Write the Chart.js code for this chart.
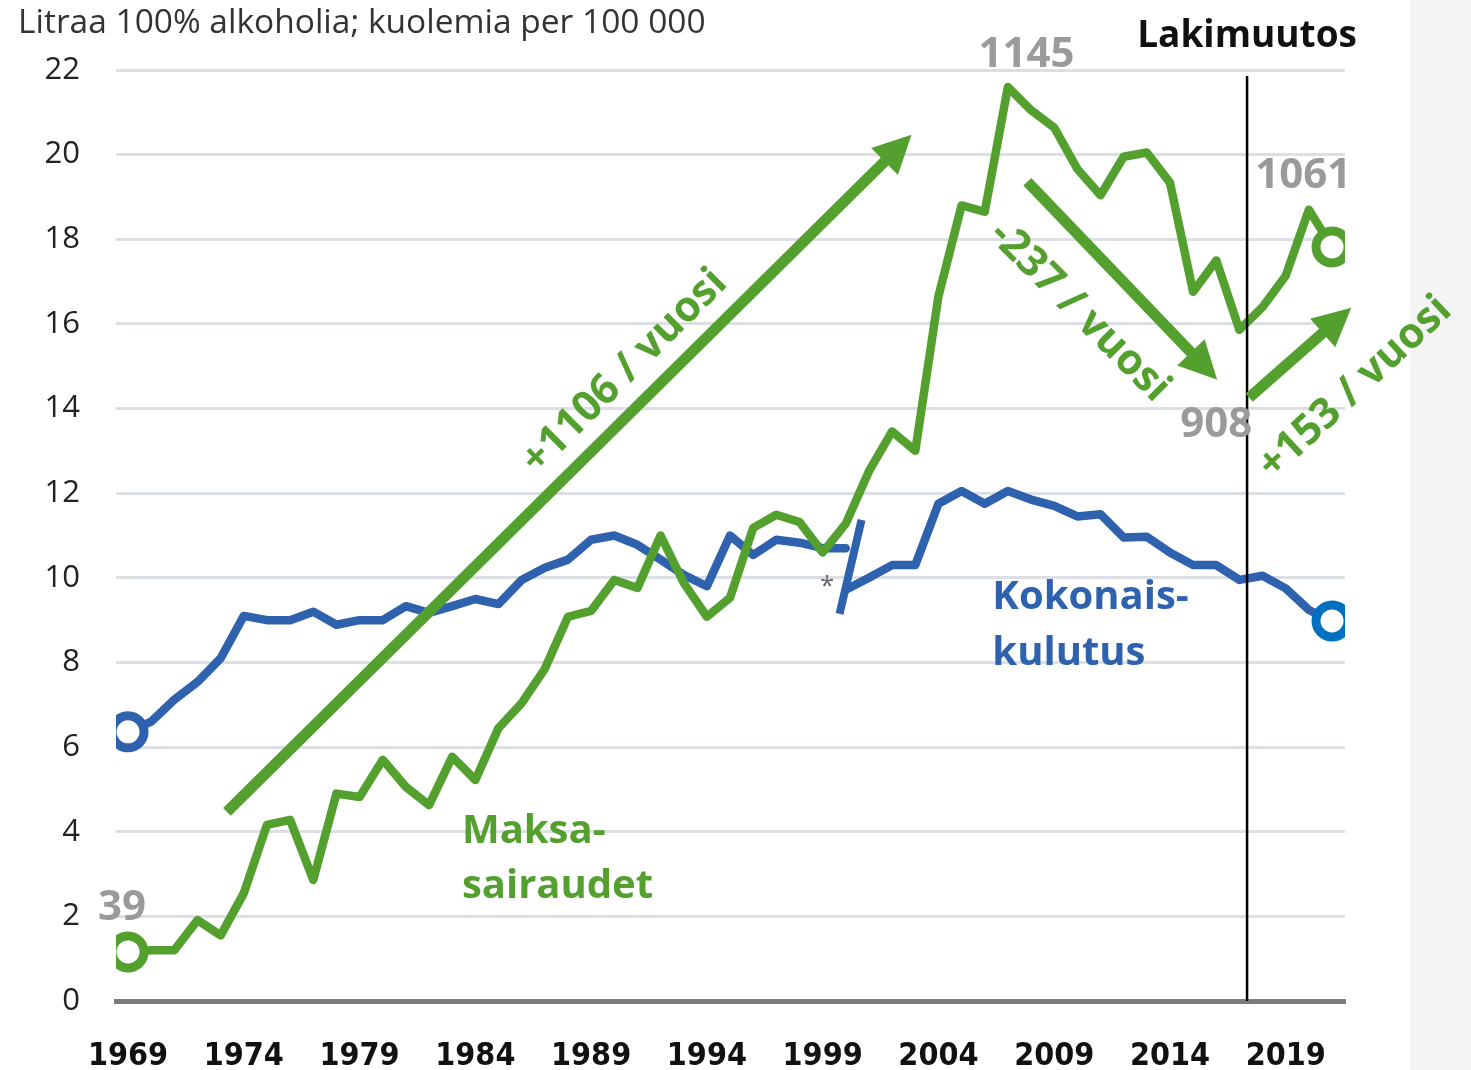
<!DOCTYPE html>
<html lang="fi">
<head>
    <meta charset="UTF-8">
    <title>Alkoholin kokonaiskulutus ja maksasairauskuolemat</title>
    <script src="https://cdnjs.cloudflare.com/ajax/libs/Chart.js/4.4.1/chart.umd.min.js"></script>
    <style>
        body {
            margin: 0;
            background-color: #f4f4f4;
        }
    </style>
</head>
<body>
    <canvas id="alcoholChart" width="1471" height="1070"></canvas>

    <script>
        // Years 1969-2021
        const years = [
            1969, 1970, 1971, 1972, 1973, 1974, 1975, 1976, 1977, 1978,
            1979, 1980, 1981, 1982, 1983, 1984, 1985, 1986, 1987, 1988,
            1989, 1990, 1991, 1992, 1993, 1994, 1995, 1996, 1997, 1998,
            1999, 2000, 2001, 2002, 2003, 2004, 2005, 2006, 2007, 2008,
            2009, 2010, 2011, 2012, 2013, 2014, 2015, 2016, 2017, 2018,
            2019, 2020, 2021
        ];

        // Maksasairaudet (kuolemia per 100 000)
        const liverDeaths = [
            1.16, 1.2, 1.2, 1.91, 1.55, 2.55, 4.16, 4.28, 2.86, 4.9,
            4.82, 5.7, 5.06, 4.63, 5.77, 5.22, 6.45, 7.04, 7.85, 9.08,
            9.22, 9.95, 9.76, 11.0, 9.88, 9.08, 9.53, 11.18, 11.49, 11.32,
            10.6, 11.28, 12.52, 13.46, 13.0, 16.65, 18.8, 18.65, 21.6, 21.05,
            20.64, 19.66, 19.04, 19.95, 20.05, 19.34, 16.76, 17.5, 15.86, 16.4,
            17.14, 18.7, 17.82
        ];

        // Kokonaiskulutus, vanha tilasto 1969-2000
        const oldYears = years.slice(0, 32);
        const consumptionOld = [
            6.36, 6.6, 7.12, 7.54, 8.1, 9.1, 9.0, 9.0, 9.2, 8.89,
            9.0, 9.0, 9.33, 9.17, 9.33, 9.5, 9.38, 9.95, 10.24, 10.43,
            10.9, 11.0, 10.78, 10.43, 10.07, 9.8, 11.0, 10.54, 10.9, 10.83,
            10.7, 10.7
        ];

        // Kokonaiskulutus, uusi tilasto 2000-2021
        const newYears = years.slice(31);
        const consumptionNew = [
            9.72, 10.0, 10.3, 10.3, 11.75, 12.05, 11.75, 12.05, 11.85, 11.7,
            11.45, 11.5, 10.95, 10.97, 10.6, 10.3, 10.3, 9.95, 10.05, 9.75,
            9.24, 8.98
        ];

        const xTickYears = [1969, 1974, 1979, 1984, 1989, 1994, 1999, 2004, 2009, 2014, 2019];
        const lawChangeYear = 2017.33;

        const GREEN = '#53a02f';
        const BLUE = '#2f62ae';
        const BLUE_END = '#0070c0';
        const GREY = '#9a9a9a';

        // trend arrows, [x0, y0, x1, y1] in year/value units
        const arrows = [
            [1973.27, 4.47, 2002.84, 20.47],
            [2007.84, 19.36, 2016.04, 14.68],
            [2017.42, 14.26, 2021.83, 16.38]
        ];

        // text annotations
        const notes = [
            { text: '1145', x: 2007.8, y: 22.36, color: GREY, size: 42, align: 'center' },
            { text: '1061', x: 2019.76, y: 19.5, color: GREY, size: 42, align: 'center' },
            { text: '908', x: 2016.0, y: 13.62, color: GREY, size: 42, align: 'center' },
            { text: '39', x: 1968.74, y: 2.2, color: GREY, size: 42, align: 'center' },
            { text: 'Lakimuutos', x: lawChangeYear, y: 22.8, color: '#111', size: 37, align: 'center' },
            { text: 'Maksa-', x: 1983.42, y: 4.0, color: GREEN, size: 40, align: 'left' },
            { text: 'sairaudet', x: 1983.42, y: 2.7, color: GREEN, size: 40, align: 'left' },
            { text: 'Kokonais-', x: 2006.33, y: 9.53, color: BLUE, size: 40, align: 'left' },
            { text: 'kulutus', x: 2006.33, y: 8.2, color: BLUE, size: 40, align: 'left' }
        ];

        const slopeNotes = [
            { text: '+1106 / vuosi', x: 1990.45, y: 14.87, angle: -45 },
            { text: '-237 / vuosi', x: 2010.09, y: 16.29, angle: 45 },
            { text: '+153 / vuosi', x: 2022.0, y: 14.49, angle: -43 }
        ];

        function toPoints(xs, ys) {
            return xs.map((x, i) => ({ x: x, y: ys[i] }));
        }

        function endRadius(len, first, last) {
            return Array.from({ length: len }, (_, i) => (i === 0 && first) || (i === len - 1 && last) ? 16 : 0);
        }

        const annotationPlugin = {
            id: 'annotations',
            beforeDraw(chart) {
                // white plot panel, grey strip on the right
                const ctx = chart.ctx;
                ctx.save();
                ctx.fillStyle = '#fff';
                ctx.fillRect(0, 0, 1410, chart.height);
                ctx.fillStyle = '#f4f4f4';
                ctx.fillRect(1410, 0, chart.width - 1410, chart.height);
                ctx.restore();
            },
            afterDatasetsDraw(chart) {
                const ctx = chart.ctx;
                const xs = chart.scales.x;
                const ys = chart.scales.y;
                const area = chart.chartArea;
                ctx.save();

                // law change line
                const lx = xs.getPixelForValue(lawChangeYear);
                ctx.strokeStyle = '#000';
                ctx.lineWidth = 2.5;
                ctx.beginPath();
                ctx.moveTo(lx, area.top + 6);
                ctx.lineTo(lx, area.bottom);
                ctx.stroke();

                // break in consumption series
                ctx.strokeStyle = BLUE;
                ctx.lineWidth = 8;
                ctx.beginPath();
                ctx.moveTo(xs.getPixelForValue(2000.68), ys.getPixelForValue(11.37));
                ctx.lineTo(xs.getPixelForValue(1999.73), ys.getPixelForValue(9.15));
                ctx.stroke();

                ctx.fillStyle = '#666';
                ctx.font = '26px "Open Sans"';
                ctx.textAlign = 'center';
                ctx.textBaseline = 'middle';
                ctx.fillText('*', xs.getPixelForValue(1999.2), ys.getPixelForValue(9.8));

                // arrows
                ctx.fillStyle = GREEN;
                ctx.strokeStyle = GREEN;
                arrows.forEach(a => {
                    const x0 = xs.getPixelForValue(a[0]), y0 = ys.getPixelForValue(a[1]);
                    const x1 = xs.getPixelForValue(a[2]), y1 = ys.getPixelForValue(a[3]);
                    const ang = Math.atan2(y1 - y0, x1 - x0);
                    const head = 38, half = 19;
                    const bx = x1 - head * Math.cos(ang), by = y1 - head * Math.sin(ang);
                    ctx.lineWidth = 11;
                    ctx.lineCap = 'butt';
                    ctx.beginPath();
                    ctx.moveTo(x0, y0);
                    ctx.lineTo(bx + 2 * Math.cos(ang), by + 2 * Math.sin(ang));
                    ctx.stroke();
                    ctx.beginPath();
                    ctx.moveTo(x1, y1);
                    ctx.lineTo(bx + half * Math.sin(ang), by - half * Math.cos(ang));
                    ctx.lineTo(bx - half * Math.sin(ang), by + half * Math.cos(ang));
                    ctx.closePath();
                    ctx.fill();
                });

                // slope texts
                ctx.font = 'bold 42px "Open Sans"';
                ctx.textAlign = 'center';
                ctx.textBaseline = 'middle';
                slopeNotes.forEach(n => {
                    ctx.save();
                    ctx.translate(xs.getPixelForValue(n.x), ys.getPixelForValue(n.y));
                    ctx.rotate(n.angle * Math.PI / 180);
                    ctx.fillText(n.text, 0, 0);
                    ctx.restore();
                });

                // labels
                notes.forEach(n => {
                    ctx.fillStyle = n.color;
                    ctx.font = 'bold ' + n.size + 'px "Open Sans"';
                    ctx.textAlign = n.align;
                    ctx.textBaseline = 'middle';
                    ctx.fillText(n.text, xs.getPixelForValue(n.x), ys.getPixelForValue(n.y));
                });

                // axis title
                ctx.fillStyle = '#333';
                ctx.font = '33.5px "Open Sans"';
                ctx.textAlign = 'left';
                ctx.textBaseline = 'middle';
                ctx.fillText('Litraa 100% alkoholia; kuolemia per 100 000', 18, 23);

                ctx.restore();
            }
        };

        new Chart(document.getElementById('alcoholChart'), {
            type: 'line',
            data: {
                datasets: [
                    {
                        label: 'Maksasairaudet',
                        data: toPoints(years, liverDeaths),
                        borderColor: GREEN,
                        borderWidth: 8.5,
                        pointRadius: endRadius(years.length, true, true),
                        pointBorderWidth: 9,
                        pointBorderColor: GREEN,
                        pointBackgroundColor: '#fff',
                        order: 1
                    },
                    {
                        label: 'Kokonaiskulutus',
                        data: toPoints(oldYears, consumptionOld),
                        borderColor: BLUE,
                        borderWidth: 8.5,
                        pointRadius: endRadius(oldYears.length, true, false),
                        pointBorderWidth: 9,
                        pointBorderColor: BLUE,
                        pointBackgroundColor: '#fff',
                        order: 2
                    },
                    {
                        label: 'Kokonaiskulutus (uusi)',
                        data: toPoints(newYears, consumptionNew),
                        borderColor: BLUE,
                        borderWidth: 8.5,
                        pointRadius: endRadius(newYears.length, false, true),
                        pointBorderWidth: 9,
                        pointBorderColor: BLUE_END,
                        pointBackgroundColor: '#fff',
                        order: 2
                    }
                ]
            },
            options: {
                responsive: false,
                animation: false,
                devicePixelRatio: 1,
                layout: {
                    padding: { left: 0, right: 126, top: 70, bottom: 0 }
                },
                elements: {
                    line: { tension: 0, borderJoinStyle: 'round', borderCapStyle: 'round' }
                },
                plugins: {
                    legend: { display: false },
                    tooltip: { enabled: false }
                },
                scales: {
                    x: {
                        type: 'linear',
                        min: 1968.48,
                        max: 2021.56,
                        afterFit(scale) { scale.height = 69; },
                        afterBuildTicks(scale) {
                            scale.ticks = xTickYears.map(v => ({ value: v }));
                        },
                        grid: { display: false, drawTicks: false },
                        border: { display: true, color: '#7d7d7d', width: 5 },
                        ticks: {
                            autoSkip: false,
                            maxRotation: 0,
                            padding: 36,
                            color: '#111',
                            font: { family: '"DejaVu Sans Condensed", "Liberation Sans Narrow"', size: 32, weight: 'bold' },
                            callback: v => String(v)
                        }
                    },
                    y: {
                        min: 0,
                        max: 22,
                        afterFit(scale) { scale.width = 116; },
                        grid: { color: '#dcdfe3', lineWidth: 3, drawTicks: false },
                        border: { display: false },
                        ticks: {
                            stepSize: 2,
                            padding: 36,
                            color: '#222',
                            font: { family: '"Open Sans"', size: 31 }
                        }
                    }
                }
            },
            plugins: [annotationPlugin]
        });
    </script>
</body>
</html>
